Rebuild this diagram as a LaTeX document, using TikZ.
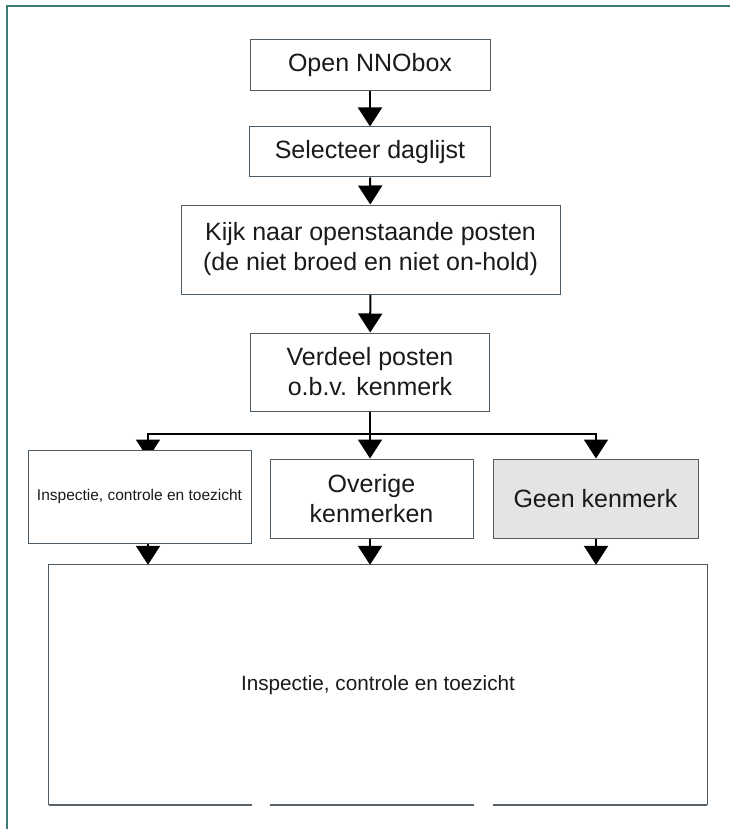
\documentclass[tikz,border=0pt]{standalone}
\usepackage{fontspec}
\setmainfont{Liberation Sans}
\usetikzlibrary{arrows.meta}
\definecolor{frameteal}{HTML}{3D7A74}
\definecolor{boxline}{HTML}{4D5B66}
\definecolor{textgray}{HTML}{1A1A1A}
\definecolor{shade}{HTML}{E4E4E4}
\pgfdeclarelayer{bg}
\pgfsetlayers{bg,main}
\begin{document}
\begin{tikzpicture}[x=1pt,y=-1pt,
  stepbox/.style={draw=boxline, line width=1pt, fill=white, inner sep=0pt,
    align=center, text=textgray, font=\fontsize{25}{30}\selectfont},
  flow/.style={line width=2pt, -{Triangle[width=24pt,length=19pt]}}]
\useasboundingbox (0,0) rectangle (729,829);
% outer frame
\draw[frameteal, line width=2.2pt] (7,840) -- (7,6) -- (740,6);

% process steps
\node[stepbox, minimum width=240pt, minimum height=51pt] (open) at (370,65.5) {Open NNObox};
\node[stepbox, minimum width=241pt, minimum height=50pt] (sel) at (370,152) {Selecteer daglijst};
\node[stepbox, minimum width=379pt, minimum height=89pt] (kijk) at (370.5,249.5)
  {Kijk naar openstaande posten\\(de niet broed en niet on-hold)};
\node[stepbox, minimum width=239pt, minimum height=78pt] (verd) at (370,372)
  {Verdeel posten\\o.b.v. kenmerk};

% categories
\node[stepbox, minimum width=223pt, minimum height=93pt, font=\fontsize{15.5}{18}\selectfont]
  (insp) at (139.5,496.5) {Inspectie, controle en toezicht};
\node[stepbox, minimum width=203pt, minimum height=79pt] (over) at (371.5,498.5) {Overige\\kenmerken};
\node[stepbox, minimum width=205pt, minimum height=79pt, fill=shade] (geen) at (595.5,498.5) {Geen kenmerk};

% collecting step
\node[inner sep=0pt, minimum width=658pt, minimum height=240pt, text=textgray,
  font=\fontsize{20.7}{24}\selectfont] (big) at (378,685) {Inspectie, controle en toezicht};
\draw[boxline, line width=1.3pt] (big.south west) -- (big.north west) -- (big.north east) -- (big.south east);
\draw[boxline!80!gray, line width=2pt]
  (big.south west) -- (big.south -| insp.east)
  (big.south -| over.west) -- (big.south -| over.east)
  (big.south -| geen.west) -- (big.south east);

% connectors, kept behind the boxes
\coordinate (lx) at (148,0);
\coordinate (bus) at (370,434);
\begin{pgfonlayer}{bg}
\fill[white] (0,0) rectangle (729,829);
\draw[flow] (open) -- (sel);
\draw[flow] (sel) -- (kijk);
\draw[flow] (kijk) -- (verd);
\draw[flow] (verd.south) -- (over.north -| verd.south);
\draw[flow] (bus) -| ([yshift=-9pt]insp.north -| lx);
\draw[flow] (bus) -| (geen.north -| 596,0);
\draw[flow] (insp.south -| lx) -- (big.north -| lx);
\draw[flow] (over.south -| verd.south) -- (big.north -| verd.south);
\draw[flow] (geen.south -| 596,0) -- (big.north -| 596,0);
\end{pgfonlayer}
\end{tikzpicture}
\end{document}
